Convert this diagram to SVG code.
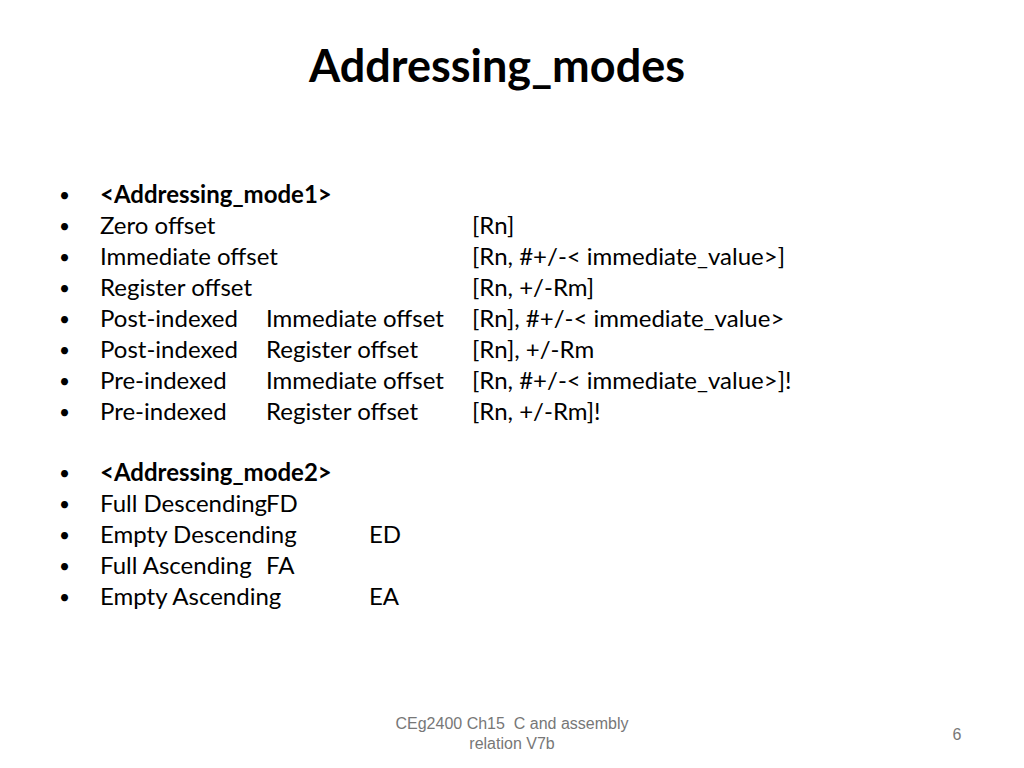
<svg xmlns="http://www.w3.org/2000/svg" width="1024" height="768" viewBox="0 0 1024 768">
<style>
text{font-family:Lato,"Open Sans",sans-serif;fill:#000}
.b{font-size:24px}
.u{font-size:19px}
.t{font-size:45px;font-weight:bold}
.f{font-family:"Liberation Sans",Arial,sans-serif;font-size:16px;fill:#777}
.h{font-weight:bold}
</style>
<rect width="1024" height="768" fill="#fff"/>
<text class="t" x="497" y="82" text-anchor="middle">Addressing_modes</text>
<g id="list">
<text class="u" x="59" y="202">•</text><text class="b h" x="100" y="203">&lt;Addressing_mode1&gt;</text>
<text class="u" x="59" y="233">•</text><text class="b" x="100" y="234">Zero offset</text><text class="b" x="472" y="234">[Rn]</text>
<text class="u" x="59" y="264">•</text><text class="b" x="100" y="265">Immediate offset</text><text class="b" x="472" y="265">[Rn, #+/-&lt; immediate_value&gt;]</text>
<text class="u" x="59" y="295">•</text><text class="b" x="100" y="296">Register offset</text><text class="b" x="472" y="296">[Rn, +/-Rm]</text>
<text class="u" x="59" y="326">•</text><text class="b" x="100" y="327">Post-indexed</text><text class="b" x="266" y="327">Immediate offset</text><text class="b" x="472" y="327">[Rn], #+/-&lt; immediate_value&gt;</text>
<text class="u" x="59" y="357">•</text><text class="b" x="100" y="358">Post-indexed</text><text class="b" x="266" y="358">Register offset</text><text class="b" x="472" y="358">[Rn], +/-Rm</text>
<text class="u" x="59" y="388">•</text><text class="b" x="100" y="389">Pre-indexed</text><text class="b" x="266" y="389">Immediate offset</text><text class="b" x="472" y="389">[Rn, #+/-&lt; immediate_value&gt;]!</text>
<text class="u" x="59" y="419">•</text><text class="b" x="100" y="420">Pre-indexed</text><text class="b" x="266" y="420">Register offset</text><text class="b" x="472" y="420">[Rn, +/-Rm]!</text>
<text class="u" x="59" y="480">•</text><text class="b h" x="100" y="481">&lt;Addressing_mode2&gt;</text>
<text class="u" x="59" y="511">•</text><text class="b" x="100" y="512">Full Descending</text><text class="b" x="266" y="512">FD</text>
<text class="u" x="59" y="542">•</text><text class="b" x="100" y="543">Empty Descending</text><text class="b" x="369" y="543">ED</text>
<text class="u" x="59" y="573">•</text><text class="b" x="100" y="574">Full Ascending</text><text class="b" x="266" y="574">FA</text>
<text class="u" x="59" y="604">•</text><text class="b" x="100" y="605">Empty Ascending</text><text class="b" x="369" y="605">EA</text>
</g>
<text class="f" x="512" y="729" text-anchor="middle" xml:space="preserve">CEg2400 Ch15  C and assembly</text>
<text class="f" x="512" y="749" text-anchor="middle">relation V7b</text>
<text class="f" x="957" y="740" text-anchor="middle">6</text>
</svg>
